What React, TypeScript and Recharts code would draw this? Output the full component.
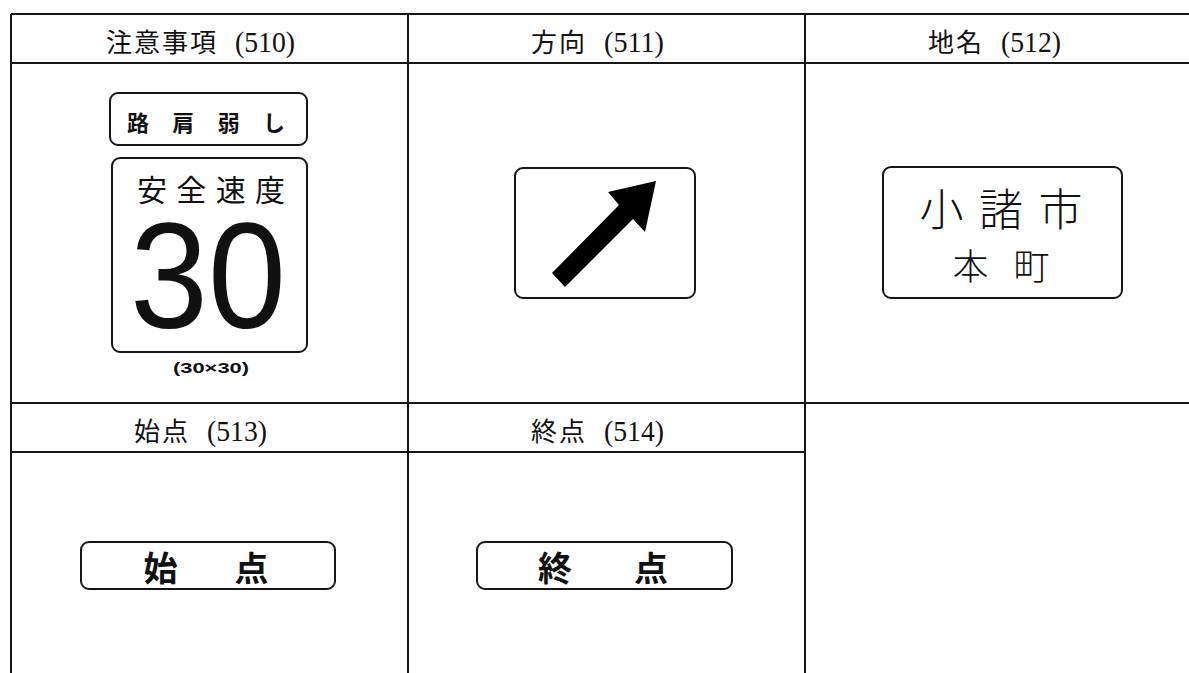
import React from 'react';
import { ComposedChart, XAxis, YAxis, ReferenceLine, ReferenceArea, Scatter } from 'recharts';

// 見出しと標識の文字
const headerNames = ['注意事項', '方向', '地名', '始点', '終点'];
const headerCodes = ['(510)', '(511)', '(512)', '(513)', '(514)'];
const cautionTexts = ['路肩弱し', '安全速度', '30', '(30×30)'];
const placeTexts = ['小諸市', '本町'];
const pointTexts = ['始点', '終点'];

// table geometry (table units, origin = top-left corner of the table)
const W = 1189;
const H = 673;
const OX = 11;
const OY = 14;
const COL_W = 397;
const HEAD_H = 49;
const BODY_H = 340;
const LINE = '#161616';

const colCenter = (c: number) => (c + 0.5) * COL_W;
const rowTop = (r: number) => r * (HEAD_H + BODY_H);
const bodyTop = (r: number) => rowTop(r) + HEAD_H;

const JP = '"Noto Sans CJK JP", "Noto Sans", sans-serif';

const headerData = headerNames.map((name, i) => ({
  x: colCenter(i < 3 ? i : i - 3) - 9,
  y: rowTop(i < 3 ? 0 : 1) + 26,
  name,
  code: headerCodes[i],
}));

const HeaderShape = (p: any) => {
  const { cx, cy, payload } = p;
  const kw = payload.name.length * 28;
  const gap = 17;
  const cw = 60;
  const x0 = cx - (kw + gap + cw) / 2;
  return (
    <g>
      <text x={x0} y={cy} dominantBaseline="central" fontFamily={JP} fontWeight={400} fontSize={26}
        textLength={kw - 2} lengthAdjust="spacing" fill="#111">{payload.name}</text>
      <text x={x0 + kw + gap} y={cy + 1} dominantBaseline="central" fontFamily='"Liberation Serif", serif'
        fontSize={30} textLength={cw} lengthAdjust="spacingAndGlyphs" fill="#111">{payload.code}</text>
    </g>
  );
};

// sign texts: position from column centre / body top, plus text style
const signTextData = [
  { text: cautionTexts[0], x: colCenter(0) - 3.5, y: bodyTop(0) + 58, size: 22, weight: 700, len: 158, font: JP, base: 'central' },
  { text: cautionTexts[1], x: colCenter(0) + 1.5, y: bodyTop(0) + 125, size: 30, weight: 400, len: 148, font: JP, base: 'central' },
  { text: cautionTexts[2], x: colCenter(0) - 1.5, y: bodyTop(0) + 265, size: 150, weight: 400, len: 156, font: '"Liberation Sans", sans-serif', base: 'auto', squeeze: true },
  { text: cautionTexts[3], x: colCenter(0) + 1.5, y: bodyTop(0) + 305, size: 14, weight: 700, len: 76, font: '"Liberation Sans", sans-serif', base: 'central', squeeze: true },
  { text: placeTexts[0], x: colCenter(2) - 2.5, y: bodyTop(0) + 144, size: 44, weight: 300, len: 163, font: JP, base: 'central' },
  { text: placeTexts[1], x: colCenter(2) - 2.5, y: bodyTop(0) + 201, size: 36, weight: 300, len: 97, font: JP, base: 'central' },
  { text: pointTexts[0], x: colCenter(0) - 3.5, y: bodyTop(1) + 114, size: 34, weight: 700, len: 125, font: JP, base: 'central' },
  { text: pointTexts[1], x: colCenter(1) - 3.5, y: bodyTop(1) + 114, size: 34, weight: 700, len: 130, font: JP, base: 'central' },
];

const SignTextShape = (p: any) => {
  const { cx, cy, payload } = p;
  return (
    <text x={cx} y={cy} textAnchor="middle" dominantBaseline={payload.base} fontFamily={payload.font}
      fontSize={payload.size} fontWeight={payload.weight} textLength={payload.len}
      lengthAdjust={payload.squeeze ? 'spacingAndGlyphs' : 'spacing'} fill="#111">{payload.text}</text>
  );
};

// sign boards: column, body row, left/right offset from column centre, top/bottom offset from body top
const boards = [
  { col: 0, row: 0, l: -99.5, r: 97.5, t: 30, b: 82 },
  { col: 0, row: 0, l: -97.5, r: 97.5, t: 95, b: 289 },
  { col: 2, row: 0, l: -120.5, r: 118.5, t: 104, b: 235 },
  { col: 0, row: 1, l: -128.5, r: 125.5, t: 90, b: 137 },
  { col: 1, row: 1, l: -129.5, r: 125.5, t: 90, b: 137 },
];
const arrowBoard = { col: 1, row: 0, l: -91.5, r: 88.5, t: 105, b: 235 };

const BoardShape = (p: any) => (
  <rect x={p.x} y={p.y} width={p.width} height={p.height} rx={8} ry={8}
    fill="#fff" stroke={LINE} strokeWidth={2} />
);

// arrow outline on a 180 x 130 board
const arrowPts = [
  [37, 105], [104, 37], [93, 24], [141, 13], [130, 64], [118, 51], [50, 119],
];

const ArrowBoardShape = (p: any) => {
  const { x, y, width, height } = p;
  const pts = arrowPts.map(([ax, ay]) => `${x + (ax / 180) * width},${y + (ay / 130) * height}`).join(' ');
  return (
    <g>
      <rect x={x} y={y} width={width} height={height} rx={8} ry={8} fill="#fff" stroke={LINE} strokeWidth={2} />
      <polygon points={pts} fill="#000" />
    </g>
  );
};

const tableRight = W - OX;
const tableBottom = H - OY;
const gridLines = [
  [[0, rowTop(0)], [tableRight, rowTop(0)]],
  [[0, rowTop(0) + HEAD_H], [tableRight, rowTop(0) + HEAD_H]],
  [[0, rowTop(1)], [tableRight, rowTop(1)]],
  [[0, rowTop(1) + HEAD_H], [COL_W * 2, rowTop(1) + HEAD_H]],
  [[0, 0], [0, tableBottom]],
  [[COL_W, 0], [COL_W, tableBottom]],
  [[COL_W * 2, 0], [COL_W * 2, tableBottom]],
];

export default function App() {
  return (
    <div style={{ position: 'absolute', left: 0, top: 0, width: W, height: H, background: '#fff' }}>
      <ComposedChart width={W} height={H} margin={{ top: 0, right: 0, bottom: 0, left: 0 }}>
        <XAxis type="number" dataKey="x" domain={[-OX, W - OX]} hide allowDataOverflow />
        <YAxis type="number" dataKey="y" domain={[-OY, H - OY]} reversed hide allowDataOverflow />
        {gridLines.map((s, i) => (
          <ReferenceLine key={'g' + i} segment={[{ x: s[0][0], y: s[0][1] }, { x: s[1][0], y: s[1][1] }]}
            stroke={LINE} strokeWidth={2} ifOverflow="visible" />
        ))}
        {boards.map((b, i) => (
          <ReferenceArea key={'b' + i} x1={colCenter(b.col) + b.l} x2={colCenter(b.col) + b.r}
            y1={bodyTop(b.row) + b.t} y2={bodyTop(b.row) + b.b} ifOverflow="visible" shape={BoardShape} />
        ))}
        <ReferenceArea x1={colCenter(arrowBoard.col) + arrowBoard.l} x2={colCenter(arrowBoard.col) + arrowBoard.r}
          y1={bodyTop(arrowBoard.row) + arrowBoard.t} y2={bodyTop(arrowBoard.row) + arrowBoard.b}
          ifOverflow="visible" shape={ArrowBoardShape} />
        <Scatter data={headerData} shape={HeaderShape} isAnimationActive={false} />
        <Scatter data={signTextData} shape={SignTextShape} isAnimationActive={false} />
      </ComposedChart>
    </div>
  );
}
